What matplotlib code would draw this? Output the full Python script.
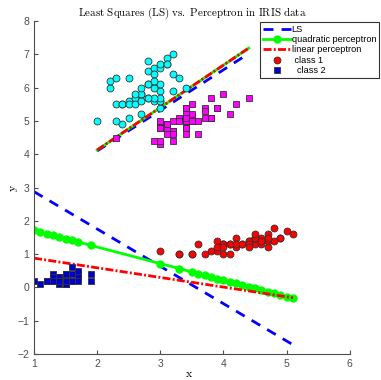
import numpy as np
import matplotlib
matplotlib.use("Agg")
import matplotlib.pyplot as plt

# IRIS data, setosa and versicolor only
setosa_sl = [5.1,4.9,4.7,4.6,5.0,5.4,4.6,5.0,4.4,4.9,5.4,4.8,4.8,4.3,5.8,5.7,5.4,5.1,5.7,5.1,
             5.4,5.1,4.6,5.1,4.8,5.0,5.0,5.2,5.2,4.7,4.8,5.4,5.2,5.5,4.9,5.0,5.5,4.9,4.4,5.1,
             5.0,4.5,4.4,5.0,5.1,4.8,5.1,4.6,5.3,5.0]
setosa_sw = [3.5,3.0,3.2,3.1,3.6,3.9,3.4,3.4,2.9,3.1,3.7,3.4,3.0,3.0,4.0,4.4,3.9,3.5,3.8,3.8,
             3.4,3.7,3.6,3.3,3.4,3.0,3.4,3.5,3.4,3.2,3.1,3.4,4.1,4.2,3.1,3.2,3.5,3.1,3.0,3.4,
             3.5,2.3,3.2,3.5,3.8,3.0,3.8,3.2,3.7,3.3]
setosa_pl = [1.4,1.4,1.3,1.5,1.4,1.7,1.4,1.5,1.4,1.5,1.5,1.6,1.4,1.1,1.2,1.5,1.3,1.4,1.7,1.5,
             1.7,1.5,1.0,1.7,1.9,1.6,1.6,1.5,1.4,1.6,1.6,1.5,1.5,1.4,1.5,1.2,1.3,1.5,1.3,1.5,
             1.3,1.3,1.3,1.6,1.9,1.4,1.6,1.4,1.5,1.4]
setosa_pw = [0.2,0.2,0.2,0.2,0.2,0.4,0.3,0.2,0.2,0.1,0.2,0.2,0.1,0.1,0.2,0.4,0.4,0.3,0.3,0.3,
             0.2,0.4,0.2,0.5,0.2,0.2,0.4,0.2,0.2,0.2,0.2,0.4,0.1,0.2,0.1,0.2,0.2,0.1,0.2,0.2,
             0.3,0.3,0.2,0.6,0.4,0.3,0.2,0.2,0.2,0.2]

versi_sl = [7.0,6.4,6.9,5.5,6.5,5.7,6.3,4.9,6.6,5.2,5.0,5.9,6.0,6.1,5.6,6.7,5.6,5.8,6.2,5.6,
            5.9,6.1,6.3,6.1,6.4,6.6,6.8,6.7,6.0,5.7,5.5,5.5,5.8,6.0,5.4,6.0,6.7,6.3,5.6,5.5,
            5.5,6.1,5.8,5.0,5.6,5.7,5.7,6.2,5.1,5.7]
versi_sw = [3.2,3.2,3.1,2.3,2.8,2.8,3.3,2.4,2.9,2.7,2.0,3.0,2.2,2.9,2.9,3.1,3.0,2.7,2.2,2.5,
            3.2,2.8,2.5,2.8,2.9,3.0,2.8,3.0,2.9,2.6,2.4,2.4,2.7,2.7,3.0,3.4,3.1,2.3,3.0,2.5,
            2.6,3.0,2.6,2.3,2.7,3.0,2.9,2.9,2.5,2.8]
versi_pl = [4.7,4.5,4.9,4.0,4.6,4.5,4.7,3.3,4.6,3.9,3.5,4.2,4.0,4.7,3.6,4.4,4.5,4.1,4.5,3.9,
            4.8,4.0,4.9,4.7,4.3,4.4,4.8,5.0,4.5,3.5,3.8,3.7,3.9,5.1,4.5,4.5,4.7,4.4,4.1,4.0,
            4.4,4.6,4.0,3.3,4.2,4.2,4.2,4.3,3.0,4.1]
versi_pw = [1.4,1.5,1.5,1.3,1.5,1.3,1.6,1.0,1.3,1.4,1.0,1.5,1.0,1.4,1.3,1.4,1.5,1.0,1.5,1.1,
            1.8,1.3,1.5,1.2,1.3,1.4,1.4,1.7,1.5,1.0,1.1,1.0,1.2,1.6,1.5,1.6,1.5,1.3,1.3,1.3,
            1.2,1.4,1.2,1.0,1.3,1.2,1.3,1.3,1.1,1.3]

# decision lines y = w0 + w1*x
ls_petal = [4.00, -1.122]
quad_petal = [2.21, -0.498]
lin_petal = [1.17, -0.290]
ls_sepal = [1.66, 1.220]
quad_sepal = [1.58, 1.275]
lin_sepal = [1.58, 1.275]

plt.rcParams['font.family'] = ['Liberation Sans', 'DejaVu Sans']
plt.rcParams['mathtext.fontset'] = 'cm'

fig = plt.figure(figsize=(3.81, 3.80), dpi=100)
ax = fig.add_axes([0.0892, 0.0684, 0.829, 0.876])

grey = '#4d4d4d'


def line(w, xs):
    return w[0] + w[1] * np.asarray(xs)


ls_dash = (3.6, 2.9)
dashdot = (2.9, 0.8, 0.7, 0.8)

# petal features
xp = np.array([min(setosa_pl), max(versi_pl)])
xq = np.unique(np.concatenate([setosa_pl, versi_pl]))
h_ls, = ax.plot(xp, line(ls_petal, xp), color='#0000ff', lw=2, dashes=ls_dash, label='LS')
h_q, = ax.plot(xq, line(quad_petal, xq), color='#00ff00', lw=2, marker='o', ms=5,
               mec='#00ff00', label='quadratic perceptron')
h_l, = ax.plot(xp, line(lin_petal, xp), color='#ff0000', lw=2, dashes=dashdot,
               label='linear perceptron')

# sepal features
xs = np.array([min(versi_sw), max(setosa_sw)])
ax.plot(xs, line(ls_sepal, xs), color='#0000ff', lw=2, dashes=ls_dash)
ax.plot(xs, line(quad_sepal, xs), color='#00ff00', lw=2)
ax.plot(xs, line(lin_sepal, xs), color='#ff0000', lw=2, dashes=dashdot)

ax.plot(versi_sw, versi_sl, 'o', color='#00ffff', mec='#333333', mew=0.6, ms=5)
ax.plot(setosa_sw, setosa_sl, 's', color='#ff00ff', mec='#333333', mew=0.6, ms=4.5)
h_c1, = ax.plot(versi_pl, versi_pw, 'o', color='#ff0000', mec='#333333', mew=0.6, ms=5,
                label=' class 1')
h_c2, = ax.plot(setosa_pl, setosa_pw, 's', color='#0000cc', mec='#333333', mew=0.6, ms=4.5,
                label='  class 2')

ax.set_xlim(1, 6)
ax.set_ylim(-2, 8)
ax.set_xticks(range(1, 7))
ax.set_yticks(range(-2, 9))
ax.spines['top'].set_visible(False)
ax.spines['right'].set_visible(False)
for s in ['left', 'bottom']:
    ax.spines[s].set_color(grey)
    ax.spines[s].set_linewidth(0.8)
ax.tick_params(direction='in', length=3, width=0.8, colors=grey, labelsize=7.5)

ax.set_title(r'$\mathrm{Least\ Squares\ (LS)\ vs.\ Perceptron\ in\ IRIS\ data}$',
             fontsize=7.9, pad=3)
ax.set_xlabel(r'$\mathrm{x}$', fontsize=8.5)
ax.set_ylabel(r'$\mathrm{y}$', fontsize=8.5, rotation=90)
ax.xaxis.set_label_coords(0.49, -0.059, transform=ax.transAxes)
ax.yaxis.set_label_coords(-0.063, 0.5, transform=ax.transAxes)
ax.xaxis.label.set_va('center')
ax.yaxis.label.set_va('center')

leg = ax.legend(handles=[h_ls, h_q, h_l, h_c1, h_c2], loc='upper right',
                bbox_to_anchor=(379 / 381, 1 - 22 / 380), bbox_transform=fig.transFigure,
                fontsize=6.6, handlelength=3.0, handletextpad=0.1, labelspacing=0.15,
                borderpad=0.3, borderaxespad=0, fancybox=False, framealpha=1)
leg.get_frame().set_edgecolor('#333333')
leg.get_frame().set_linewidth(0.8)

fig.savefig('out.png', dpi=100)
